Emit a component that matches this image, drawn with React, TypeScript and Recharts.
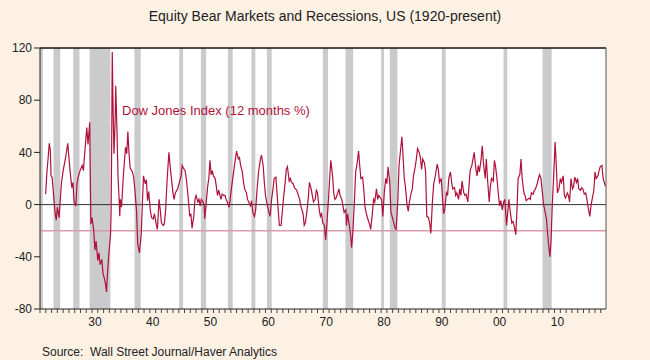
import {
  CartesianGrid,
  Line,
  LineChart,
  ReferenceArea,
  ReferenceLine,
  XAxis,
  YAxis,
} from "recharts";

// Dow Jones Industrial Average, 12-month % change (year, value)
const dow1920s: [number, number][] = [
  [1921.97, 8], [1922.2, 25], [1922.45, 38], [1922.6, 47], [1922.8, 41], [1922.9, 22],
  [1923.1, 21], [1923.3, 10], [1923.6, -6], [1923.8, -12], [1924.0, -2], [1924.3, -10],
  [1924.5, 3], [1924.7, 16], [1925.0, 26], [1925.3, 33], [1925.5, 38], [1925.8, 47],
  [1926.0, 36], [1926.2, 26], [1926.5, 13], [1926.7, 17], [1926.9, 2], [1927.2, -1],
  [1927.4, 16], [1927.6, 21], [1928.0, 27], [1928.3, 30], [1928.5, 26], [1928.9, 49],
  [1929.1, 59], [1929.3, 46], [1929.6, 63], [1929.8, -15],
];
const dow1930s: [number, number][] = [
  [1930.0, -10], [1930.3, -20], [1930.5, -35], [1930.7, -28], [1931.0, -43], [1931.2, -37],
  [1931.4, -46], [1931.7, -42], [1931.9, -53], [1932.1, -56], [1932.3, -60], [1932.5, -67],
  [1932.7, -51], [1932.9, -38], [1933.2, -23], [1933.3, -5], [1933.4, 46], [1933.5, 117],
  [1933.65, 72], [1933.8, 39], [1934.0, 64], [1934.1, 91], [1934.3, 59], [1934.5, 21],
  [1934.7, 3], [1934.8, -9], [1934.9, 4], [1935.1, -2], [1935.4, 21], [1935.6, 33],
  [1935.8, 44], [1936.0, 39], [1936.2, 56], [1936.4, 39], [1936.6, 28], [1937.0, 25],
  [1937.2, 21], [1937.4, 12], [1937.7, -5], [1937.9, -30], [1938.2, -37], [1938.5, -23],
  [1938.7, 0], [1938.9, 22], [1939.2, 16], [1939.4, 19], [1939.6, 3], [1939.8, 10],
];
const dow1940s: [number, number][] = [
  [1940.1, -5], [1940.3, -10], [1940.6, -11], [1940.8, -7], [1941.1, -15], [1941.3, -19],
  [1941.6, 4], [1941.8, -4], [1942.0, -14], [1942.3, -16], [1942.5, -15], [1942.7, -6],
  [1943.0, 20], [1943.3, 40], [1943.5, 30], [1943.8, 17], [1944.0, 9], [1944.2, 4],
  [1944.4, 9], [1944.8, 12], [1945.1, 17], [1945.4, 22], [1945.6, 30], [1945.8, 28],
  [1946.1, 26], [1946.3, 20], [1946.6, 7], [1946.9, -9], [1947.1, -7], [1947.3, -18],
  [1947.6, -9], [1947.8, 4], [1948.0, 7], [1948.3, 2], [1948.5, 4], [1948.7, -1],
  [1948.9, 4], [1949.2, 2], [1949.4, -1], [1949.5, -11], [1949.8, 4],
];
const dow1950s: [number, number][] = [
  [1950.0, 14], [1950.2, 20], [1950.4, 34], [1950.6, 23], [1950.8, 26], [1951.0, 22],
  [1951.3, 20], [1951.5, 14], [1951.7, 7], [1951.9, 11], [1952.3, 4], [1952.5, 8],
  [1952.8, 7], [1953.0, 7], [1953.2, 4], [1953.4, 2], [1953.7, -2], [1953.9, 4],
  [1954.1, 12], [1954.4, 22], [1954.7, 32], [1955.0, 41], [1955.3, 35], [1955.5, 36],
  [1955.7, 30], [1956.0, 25], [1956.2, 17], [1956.4, 12], [1956.7, 9], [1956.9, 4],
  [1957.1, 2], [1957.4, -1], [1957.6, 3], [1957.8, -6], [1958.1, -9], [1958.3, -4],
  [1958.5, 9], [1958.8, 25], [1959.1, 34], [1959.3, 38], [1959.6, 30], [1959.8, 17],
];
const dow1960s: [number, number][] = [
  [1960.0, 7], [1960.2, 2], [1960.4, -2], [1960.6, -6], [1960.8, -9], [1961.06, 4],
  [1961.3, 12], [1961.5, 20], [1961.8, 21], [1962.0, 9], [1962.2, -4], [1962.4, -16],
  [1962.7, -16], [1962.9, -6], [1963.1, 4], [1963.4, 17], [1963.6, 27], [1963.8, 29],
  [1964.1, 18], [1964.3, 20], [1964.5, 17], [1964.8, 16], [1965.0, 13], [1965.2, 12],
  [1965.4, 11], [1965.7, 7], [1965.9, 4], [1966.1, -1], [1966.5, -7], [1966.7, -16],
  [1966.9, -14], [1967.2, -4], [1967.4, 5], [1967.6, 17], [1967.9, 12], [1968.1, 7],
  [1968.3, 2], [1968.6, 4], [1968.8, 11], [1969.0, 9], [1969.3, -4], [1969.5, -9],
  [1969.7, -7], [1969.9, -14],
];
const dow1970s: [number, number][] = [
  [1970.2, -16], [1970.4, -27], [1970.6, -16], [1970.9, 4], [1971.1, 20], [1971.3, 34],
  [1971.6, 22], [1971.8, 9], [1972.0, 4], [1972.2, 5], [1972.5, 9], [1972.7, 12],
  [1972.9, 7], [1973.2, 4], [1973.4, -1], [1973.6, -6], [1973.9, -4], [1974.0, -16],
  [1974.2, -7], [1974.4, -13], [1974.7, -22], [1974.9, -33], [1975.1, -22], [1975.4, 4],
  [1975.6, 25], [1975.8, 30], [1976.1, 41], [1976.3, 30], [1976.5, 20], [1976.8, 21],
  [1977.0, 12], [1977.2, -1], [1977.4, -6], [1977.7, -11], [1978.0, -15], [1978.2, -19],
  [1978.5, -6], [1978.7, 4], [1978.9, 2], [1979.2, 12], [1979.4, 4], [1979.6, 7],
  [1979.9, 5],
];
const dow1980s: [number, number][] = [
  [1980.1, 4], [1980.3, -9], [1980.55, 9], [1980.8, 20], [1981.0, 16], [1981.2, 29],
  [1981.5, 17], [1981.7, -6], [1981.9, -9], [1982.2, -14], [1982.4, -18], [1982.6, -19],
  [1982.9, 4], [1983.1, 30], [1983.3, 39], [1983.6, 52], [1983.8, 37], [1984.0, 20],
  [1984.2, 14], [1984.5, -1], [1984.7, -5], [1984.9, 2], [1985.2, 9], [1985.4, 12],
  [1985.6, 22], [1985.9, 29], [1986.1, 35], [1986.3, 43], [1986.6, 40], [1986.8, 36],
  [1987.0, 27], [1987.2, 35], [1987.5, 32], [1987.7, 25], [1987.9, -9], [1988.2, -10],
  [1988.4, -14], [1988.6, -22], [1988.9, 4], [1989.1, 16], [1989.3, 20], [1989.7, 31],
  [1989.9, 27],
];
const dow1990s: [number, number][] = [
  [1990.1, 17], [1990.4, 20], [1990.6, 7], [1990.8, -7], [1991.0, -4], [1991.3, 9],
  [1991.5, 7], [1991.7, 20], [1992.0, 25], [1992.2, 17], [1992.4, 12], [1992.7, 13],
  [1992.9, 7], [1993.1, 9], [1993.4, 4], [1993.6, 12], [1993.8, 7], [1994.0, 18],
  [1994.3, 9], [1994.5, 7], [1994.7, 8], [1995.0, 2], [1995.2, 14], [1995.4, 26],
  [1995.7, 30], [1995.9, 35], [1996.1, 40], [1996.4, 27], [1996.6, 22], [1996.8, 30],
  [1997.0, 25], [1997.3, 35], [1997.5, 45], [1997.7, 32], [1998.0, 20], [1998.2, 35],
  [1998.4, 20], [1998.7, 2], [1998.9, 14], [1999.1, 20], [1999.4, 18], [1999.6, 34],
  [1999.8, 29],
];
const dow2000s: [number, number][] = [
  [2000.04, 20], [2000.3, 7], [2000.5, -1], [2000.7, 3], [2000.96, -4], [2001.2, 2],
  [2001.4, 4], [2001.7, -16], [2001.9, -6], [2002.1, 4], [2002.35, -6], [2002.6, -14],
  [2002.8, -13], [2003.0, -16], [2003.3, -23], [2003.5, -4], [2003.7, 20], [2004.0, 23],
  [2004.2, 35], [2004.4, 20], [2004.7, 9], [2004.9, 7], [2005.1, 3], [2005.35, 4],
  [2005.6, 5], [2005.8, 4], [2006.0, 9], [2006.3, 8], [2006.5, 11], [2006.7, 12],
  [2007.0, 16], [2007.2, 20], [2007.4, 23], [2007.65, 20], [2007.9, 9], [2008.1, 0],
  [2008.3, -4], [2008.6, -11], [2008.8, -22], [2009.0, -32], [2009.2, -40], [2009.4, -27],
  [2009.6, -1], [2009.85, 22],
];
const dow2010s: [number, number][] = [
  [2010.1, 48], [2010.3, 30], [2010.5, 9], [2010.8, 13], [2011.0, 20], [2011.2, 17],
  [2011.5, 22], [2011.7, 7], [2011.9, 5], [2012.2, 9], [2012.4, 7], [2012.6, 2],
  [2012.85, 20], [2013.1, 12], [2013.3, 14], [2013.5, 21], [2013.8, 17], [2014.0, 20],
  [2014.2, 12], [2014.5, 11], [2014.7, 13], [2014.9, 12], [2015.15, 8], [2015.4, 9],
  [2015.6, 4], [2015.8, -2], [2016.1, -9], [2016.3, -1], [2016.5, 4], [2016.8, 11],
  [2017.0, 25], [2017.2, 20], [2017.5, 22], [2017.7, 26], [2017.9, 29], [2018.2, 30],
  [2018.4, 20], [2018.6, 17], [2018.8, 14],
];

// NBER recessions (start, end) as fractional years
const recessions: [number, number][] = [
  [1920.0, 1921.5], [1923.33, 1924.5], [1926.75, 1927.83], [1929.58, 1933.17],
  [1937.33, 1938.42], [1945.08, 1945.75], [1948.83, 1949.75], [1953.5, 1954.33],
  [1957.58, 1958.25], [1960.25, 1961.08], [1969.92, 1970.83], [1973.83, 1975.17],
  [1980.0, 1980.5], [1981.5, 1982.83], [1990.5, 1991.17], [2001.17, 2001.83],
  [2007.92, 2009.5],
];

const decadeYears = [1930, 1940, 1950, 1960, 1970, 1980, 1990, 2000, 2010];
const decadeLabels = ["30", "40", "50", "60", "70", "80", "90", "00", "10"];
const yTicks = [-80, -40, 0, 40, 80, 120];

const font = "'Liberation Sans', Arial, sans-serif";
const lineColor = "#b0113a";

const data = [
  ...dow1920s, ...dow1930s, ...dow1940s, ...dow1950s, ...dow1960s,
  ...dow1970s, ...dow1980s, ...dow1990s, ...dow2000s, ...dow2010s,
].map(([year, dow]) => ({ year, dow }));

const yearTicks: number[] = [];
for (let y = 1921; y <= 2018; y++) yearTicks.push(y);
const xTicks = [...yearTicks, ...decadeYears.map((d) => d + 0.5)];

function YearTick(props: any) {
  const { x, y, payload } = props;
  const v = payload.value as number;
  if (Number.isInteger(v)) {
    return <line x1={x} x2={x} y1={y} y2={y + 4} stroke="#444" />;
  }
  const i = decadeYears.indexOf(Math.floor(v));
  return (
    <text x={x} y={y + 17} textAnchor="middle" fontSize={12} fontFamily={font} fill="#222">
      {decadeLabels[i]}
    </text>
  );
}

export default function App() {
  return (
    <div
      style={{
        position: "absolute",
        left: 0,
        top: 0,
        width: 650,
        height: 360,
        background: "#fdf1e4",
        fontFamily: font,
      }}
    >
      <div
        style={{
          position: "absolute",
          top: 8,
          left: 0,
          width: 650,
          textAlign: "center",
          fontSize: 14,
          color: "#222",
        }}
      >
        Equity Bear Markets and Recessions, US (1920-present)
      </div>
      <LineChart
        width={650}
        height={360}
        data={data}
        margin={{ top: 48, right: 8, bottom: 29, left: 8 }}
      >
        <CartesianGrid fill="#ffffff" horizontal={false} vertical={false} yAxisId="left" />
        <XAxis
          dataKey="year"
          type="number"
          domain={[1921, 2018.9]}
          allowDataOverflow
          ticks={xTicks}
          interval={0}
          tick={<YearTick />}
          tickLine={false}
          tickSize={0}
          tickMargin={0}
          height={22}
          stroke="#222"
        />
        <YAxis
          yAxisId="left"
          domain={[-80, 120]}
          ticks={yTicks}
          width={32}
          tickSize={6}
          tickMargin={2}
          stroke="#222"
          tick={{ fill: "#222", fontSize: 12, fontFamily: font }}
        />
        <YAxis
          yAxisId="right"
          orientation="right"
          domain={[-80, 120]}
          ticks={yTicks}
          width={36}
          tickSize={5}
          tickMargin={3}
          stroke="#555"
          tick={{ fill: "#222", fontSize: 12, fontFamily: font, textAnchor: "start" }}
        />
        {recessions.map(([a, b]) => (
          <ReferenceArea
            key={a}
            yAxisId="left"
            x1={a}
            x2={b}
            y1={-80}
            y2={120}
            fill="#cbcacd"
            fillOpacity={1}
            stroke="none"
            ifOverflow="hidden"
          />
        ))}
        <ReferenceLine yAxisId="left" y={0} stroke="#333" strokeWidth={1} />
        <ReferenceLine yAxisId="left" y={-20} stroke="#d99cab" strokeWidth={1.5} />
        <ReferenceLine yAxisId="left" y={120} stroke="#111" strokeWidth={1.5} />
        <Line
          yAxisId="left"
          dataKey="dow"
          stroke={lineColor}
          strokeWidth={1.2}
          dot={false}
          type="linear"
          isAnimationActive={false}
        />
      </LineChart>
      <div
        style={{
          position: "absolute",
          left: 122,
          top: 103,
          fontSize: 13,
          color: lineColor,
          whiteSpace: "nowrap",
        }}
      >
        Dow Jones Index (12 months %)
      </div>
      <div
        style={{
          position: "absolute",
          left: 42,
          top: 345,
          fontSize: 12,
          color: "#222",
          whiteSpace: "pre",
        }}
      >
        {"Source:  Wall Street Journal/Haver Analytics"}
      </div>
    </div>
  );
}
